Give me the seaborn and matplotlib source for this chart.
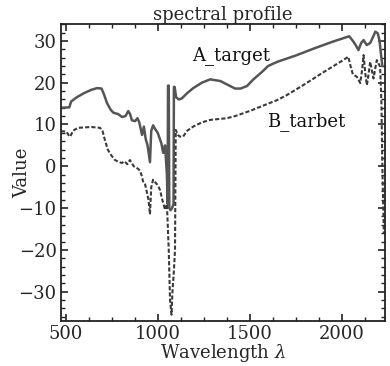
import numpy as np
import pandas as pd
import matplotlib
matplotlib.use("Agg")
import matplotlib.pyplot as plt
from matplotlib.ticker import MultipleLocator, AutoMinorLocator
import seaborn as sns

# ---- data ----
a_wl = [475, 520, 530, 560, 600, 640, 670, 695, 710, 725, 745, 760, 785, 806, 825, 840,
        850, 860, 877, 890, 900, 915, 925, 935, 945, 958, 965, 975, 985, 1000, 1012, 1020,
        1030, 1040, 1050, 1054, 1056, 1060, 1063, 1070, 1078, 1086, 1088, 1092, 1100, 1115,
        1130, 1160, 1193, 1240, 1285, 1340, 1380, 1420, 1450, 1485, 1520, 1567, 1600, 1650,
        1750, 1850, 1950, 2040, 2060, 2075, 2090, 2105, 2118, 2135, 2154, 2170, 2182, 2195,
        2205, 2212, 2220]
a_val = [14.0, 14.1, 15.5, 16.5, 17.5, 18.3, 18.7, 18.6, 17.0, 15.1, 13.5, 12.8, 12.5, 11.8,
         12.0, 13.2, 12.5, 11.0, 10.8, 11.5, 10.5, 7.5, 9.5, 6.5, 5.0, 1.0, 8.5, 9.8, 9.0, 8.0,
         6.5, 5.5, 3.2, 5.0, -2.0, -9.0, 19.3, 19.3, -10.0, -10.5, -10.0, -9.0, 19.0, 19.0,
         16.5, 16.0, 16.2, 17.5, 18.7, 20.0, 20.8, 20.4, 19.5, 18.6, 18.6, 19.2, 20.8, 22.6,
         24.0, 25.0, 26.5, 28.2, 29.8, 31.1, 30.0, 29.0, 27.8, 29.5, 30.2, 29.0, 29.5, 31.0,
         32.2, 31.8, 30.0, 27.0, 24.0]

b_wl = [475, 505, 515, 525, 540, 567, 600, 640, 687, 700, 715, 730, 750, 768, 790, 806, 820,
        835, 849, 870, 890, 904, 915, 920, 930, 940, 950, 958, 965, 975, 990, 1000, 1012,
        1025, 1040, 1050, 1060, 1067, 1075, 1080, 1088, 1094, 1098, 1110, 1120, 1138, 1160,
        1193, 1240, 1285, 1375, 1420, 1465, 1510, 1555, 1600, 1647, 1700, 1790, 1900, 2000,
        2035, 2050, 2060, 2082, 2100, 2110, 2118, 2128, 2136, 2145, 2154, 2165, 2172, 2182,
        2190, 2200, 2208, 2215, 2220, 2225, 2228]
b_val = [8.4, 8.3, 7.5, 7.1, 8.5, 9.2, 9.3, 9.4, 9.2, 8.5, 6.0, 3.9, 2.5, 1.5, 1.0, 0.8, 1.2,
         0.5, 1.5, 0.0, -0.5, -1.0, -2.5, -3.6, -4.0, -6.0, -8.0, -11.5, -5.0, -3.2, -4.0,
         -4.5, -5.6, -8.0, -10.4, -9.0, -20.0, -32.0, -35.5, -30.0, -25.0, -20.0, 8.7, 7.5,
         7.1, 7.1, 8.5, 9.5, 10.5, 11.1, 11.5, 12.0, 12.7, 13.4, 14.2, 15.0, 15.8, 17.0, 19.4,
         22.5, 25.2, 26.2, 23.5, 22.0, 21.4, 19.9, 23.0, 26.6, 22.0, 19.4, 22.0, 25.0, 22.5,
         21.0, 23.5, 25.4, 24.5, 23.8, 15.0, 0.0, -10.0, -16.0]

labels = ["A_target", "B_tarbet"]
title = "spectral profile"

df_a = pd.DataFrame({"wl": a_wl, "val": a_val})
df_b = pd.DataFrame({"wl": b_wl, "val": b_val})

sns.set_style("ticks")
plt.rcParams["font.family"] = ["DejaVu Serif"]
plt.rcParams["mathtext.fontset"] = "dejavuserif"

fig = plt.figure(figsize=(3.9, 3.66), dpi=100)
ax = fig.add_axes([0.156, 0.123, 0.831, 0.811])

sns.lineplot(data=df_a, x="wl", y="val", ax=ax, color="#555555", linewidth=1.8,
             estimator=None, sort=False)
sns.lineplot(data=df_b, x="wl", y="val", ax=ax, color="#3a3a3a", linewidth=1.5,
             estimator=None, sort=False, linestyle=(0, (2, 1)))

ax.text(1398, 26.6, labels[0], fontsize=13, ha="center", va="center", color="#111111")
ax.text(1807, 10.8, labels[1], fontsize=13, ha="center", va="center", color="#111111")

ax.set_xlim(474, 2234)
ax.set_ylim(-37, 34)
ax.xaxis.set_major_locator(MultipleLocator(500))
ax.yaxis.set_major_locator(MultipleLocator(10))
ax.xaxis.set_minor_locator(AutoMinorLocator(4))
ax.yaxis.set_minor_locator(AutoMinorLocator(5))
ax.tick_params(which="both", direction="in", top=True, right=True, color="#222222")
ax.tick_params(which="major", length=5, width=1.2, labelsize=13, pad=3)
ax.tick_params(which="minor", length=3, width=1.0)
for s in ax.spines.values():
    s.set_linewidth(1.3)
    s.set_color("#222222")

ax.set_xlabel(r"Wavelength $\lambda$", fontsize=13, labelpad=-1)
ax.set_ylabel("Value", fontsize=13)
ax.yaxis.set_label_coords(-0.092, 0.5)
ax.set_title(title, fontsize=13, pad=2)

fig.savefig("out.png", dpi=100)
